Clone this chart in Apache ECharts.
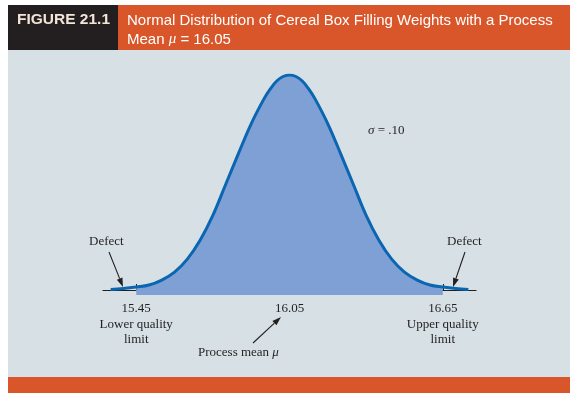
<!DOCTYPE html>
<html>
<head>
<meta charset="UTF-8">
<title>Figure 21.1</title>
<script src="https://cdn.jsdelivr.net/npm/echarts@6/dist/echarts.min.js"></script>
<style>
  html, body { margin: 0; padding: 0; background: #fff; }
  #main { width: 577px; height: 397px; }
</style>
</head>
<body>
<div id="main"></div>
<script>
var chart = echarts.init(document.getElementById('main'));

// filling weights (oz) and curve height
var weights = [15.35, 15.40, 15.45, 15.50, 15.55, 15.60, 15.65, 15.70, 15.75, 15.80,
  15.85, 15.90, 15.95, 15.975, 16.00, 16.025, 16.05, 16.075, 16.10, 16.125, 16.15,
  16.20, 16.25, 16.30, 16.35, 16.40, 16.45, 16.50, 16.55, 16.60, 16.65, 16.70, 16.75];
var heights = [0.5, 1.5, 3, 5, 10, 18, 31, 50, 75, 106,
  137, 167, 192, 202, 210, 214.5, 216, 214.5, 210, 202, 192,
  167, 137, 106, 75, 50, 31, 18, 10, 5, 3, 1.5, 0.5];

var tickValues = [15.45, 16.05, 16.65];
var tickLabels = ['15.45\nLower quality\nlimit', '16.05', '16.65\nUpper quality\nlimit'];
var lowerLimit = 15.45, upperLimit = 16.65;

var curve = weights.map(function (w, i) { return [w, heights[i]]; });
var inside = curve.filter(function (p) { return p[0] >= lowerLimit - 1e-9 && p[0] <= upperLimit + 1e-9; });

var ink = '#231f20';
var serif = '"Liberation Serif", "DejaVu Serif", serif';

function arrow(x1, y1, x2, y2) {
  var a = Math.atan2(y2 - y1, x2 - x1), L = 9, W = 3;
  var bx = x2 - L * Math.cos(a), by = y2 - L * Math.sin(a);
  return {
    type: 'group',
    children: [
      { type: 'line', shape: { x1: x1, y1: y1, x2: bx, y2: by }, style: { stroke: ink, lineWidth: 1.1 } },
      { type: 'polygon', shape: { points: [[x2, y2],
        [bx + W * Math.sin(a), by - W * Math.cos(a)],
        [bx - W * Math.sin(a), by + W * Math.cos(a)]] }, style: { fill: ink } }
    ]
  };
}

var option = {
  backgroundColor: '#ffffff',
  animation: false,
  graphic: [
    { type: 'rect', z: -10, shape: { x: 8, y: 50, width: 562, height: 327 }, style: { fill: '#d6e0e5' } },
    { type: 'rect', z: -10, shape: { x: 8, y: 5, width: 110, height: 45 }, style: { fill: '#231f20' } },
    { type: 'rect', z: -10, shape: { x: 118, y: 5, width: 452, height: 45 }, style: { fill: '#d9562a' } },
    { type: 'rect', z: -10, shape: { x: 8, y: 377, width: 562, height: 16 }, style: { fill: '#d9562a' } },
    { type: 'text', style: { text: 'FIGURE 21.1', x: 17, y: 12, fill: '#f3e4d6',
      font: 'bold 15.5px "Liberation Sans", Arial, sans-serif' } },
    { type: 'text', style: { text: 'Normal Distribution of Cereal Box Filling Weights with a Process\nMean {i|μ} = 16.05',
      x: 127, y: 11, fill: '#ffffff', lineHeight: 19,
      font: '15px "Liberation Sans", Arial, sans-serif',
      rich: { i: { fontStyle: 'italic', fontSize: 15, fontFamily: serif, fill: '#ffffff' } } } },
    { type: 'text', style: { text: '{i|σ} = .10', x: 368, y: 124, fill: ink,
      font: '13px ' + serif, rich: { i: { fontStyle: 'italic', fontSize: 13, fontFamily: serif } } } },
    { type: 'text', style: { text: 'Defect', x: 89, y: 235, fill: ink, font: '13px ' + serif } },
    { type: 'text', style: { text: 'Defect', x: 447, y: 235, fill: ink, font: '13px ' + serif } },
    { type: 'text', style: { text: 'Process mean {i|μ}', x: 198, y: 346, fill: ink,
      font: '13px ' + serif, rich: { i: { fontStyle: 'italic', fontSize: 13, fontFamily: serif } } } },
    arrow(109, 252, 123, 287),
    arrow(465, 252, 453, 287),
    arrow(253, 343, 281, 317)
  ],
  grid: { left: 103, right: 101, top: 75, bottom: 102 },
  xAxis: {
    type: 'value',
    min: 15.32,
    max: 16.78,
    splitLine: { show: false },
    axisLine: { lineStyle: { color: ink, width: 1.2 } },
    axisTick: { inside: true, length: 6, customValues: tickValues, lineStyle: { color: ink } },
    axisLabel: {
      customValues: tickValues,
      margin: 6,
      color: ink,
      fontFamily: serif,
      fontSize: 13,
      lineHeight: 15.5,
      formatter: function (v) {
        var i = tickValues.findIndex(function (t) { return Math.abs(t - v) < 1e-6; });
        return i >= 0 ? tickLabels[i] : '';
      }
    }
  },
  yAxis: { type: 'value', min: -5, max: 216, show: false },
  series: [
    {
      type: 'line',
      data: inside,
      smooth: 0.4,
      symbol: 'none',
      z: 1,
      lineStyle: { width: 0 },
      areaStyle: { color: '#7fa0d5', opacity: 1, origin: 'start' }
    },
    {
      type: 'line',
      data: curve,
      smooth: 0.4,
      symbol: 'none',
      z: 3,
      lineStyle: { color: '#0b66b1', width: 3 }
    }
  ]
};

chart.setOption(option);
</script>
</body>
</html>
